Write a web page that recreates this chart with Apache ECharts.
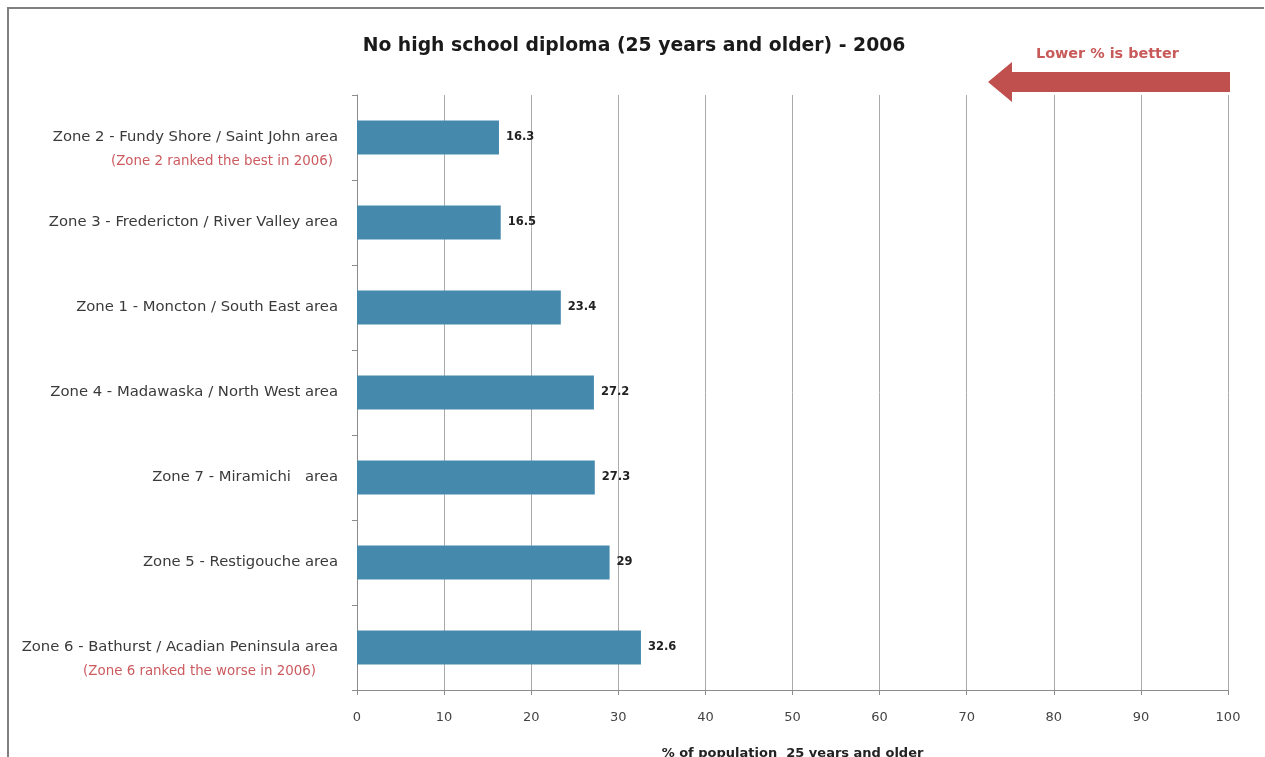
<!DOCTYPE html>
<html>
<head>
<meta charset="utf-8">
<script src="https://cdn.jsdelivr.net/npm/echarts@6/dist/echarts.min.js"></script>
<style>
  html, body { margin: 0; padding: 0; background: #ffffff; }
  #chart { width: 1265px; height: 757px; }
</style>
</head>
<body>
<div id="chart"></div>
<script>
// Health zones, listed from best (lowest %) to worst
const zones = [
  'Zone 2 - Fundy Shore / Saint John area',
  'Zone 3 - Fredericton / River Valley area',
  'Zone 1 - Moncton / South East area',
  'Zone 4 - Madawaska / North West area',
  'Zone 7 - Miramichi   area',
  'Zone 5 - Restigouche area',
  'Zone 6 - Bathurst / Acadian Peninsula area'
];
// Short remarks printed under some zone names
const notes = [
  '(Zone 2 ranked the best in 2006)',
  '', '', '', '', '',
  '(Zone 6 ranked the worse in 2006)'
];
// % of population 25 and older without a high school diploma
const noDiploma = [16.3, 16.5, 23.4, 27.2, 27.3, 29, 32.6];
const xTicks = [0, 10, 20, 30, 40, 50, 60, 70, 80, 90, 100];

const chart = echarts.init(document.getElementById('chart'));
const FONT = '"DejaVu Sans", "Open Sans", sans-serif';

chart.setOption({
  animation: false,
  backgroundColor: '#ffffff',
  textStyle: { fontFamily: FONT },
  title: {
    text: 'No high school diploma (25 years and older) - 2006',
    left: 629,
    top: 32,
    textAlign: 'center',
    textStyle: { fontSize: 18.8, fontWeight: 'bold', color: '#1a1a1a', fontFamily: FONT }
  },
  grid: { left: 357, right: 37, top: 95, bottom: 67, containLabel: false, outerBoundsMode: 'none' },
  xAxis: {
    type: 'value',
    min: xTicks[0],
    max: xTicks[xTicks.length - 1],
    interval: xTicks[1] - xTicks[0],
    name: '% of population  25 years and older',
    nameLocation: 'middle',
    nameGap: 57,
    nameTextStyle: { fontSize: 13, fontWeight: 'bold', color: '#222', fontFamily: FONT },
    axisLine: { show: true, lineStyle: { color: '#8c8c8c', width: 1 } },
    axisTick: { show: true, length: 5, lineStyle: { color: '#8c8c8c' } },
    axisLabel: { margin: 21, fontSize: 13, color: '#444', fontFamily: FONT },
    splitLine: { show: true, lineStyle: { color: '#ababab', width: 1 } }
  },
  yAxis: {
    type: 'category',
    inverse: true,
    data: zones,
    axisLine: { show: true, lineStyle: { color: '#8c8c8c', width: 1 } },
    axisTick: { show: true, length: 5, alignWithLabel: false, lineStyle: { color: '#8c8c8c' } },
    axisLabel: {
      margin: 19,
      align: 'right',
      color: '#3a3a3a',
      fontSize: 14.8,
      fontFamily: FONT,
      formatter: function (value, idx) {
        const note = notes[idx];
        if (!note) return '{main|' + value + '}';
        const subStyle = idx === 0 ? 'subA' : 'subB';
        return '{sp| }\n{main|' + value + '}\n{' + subStyle + '|' + note + '}';
      },
      rich: {
        main: { fontSize: 14.8, color: '#3a3a3a', lineHeight: 24, fontFamily: FONT },
        sp: { fontSize: 10, lineHeight: 24 },
        subA: { fontSize: 13.4, color: '#cc5a5f', lineHeight: 24, padding: [0, 5, 0, 0], fontFamily: FONT },
        subB: { fontSize: 13.4, color: '#cc5a5f', lineHeight: 24, padding: [0, 22, 0, 0], fontFamily: FONT }
      }
    },
    splitLine: { show: false }
  },
  series: [{
    type: 'bar',
    data: noDiploma,
    barWidth: 34,
    itemStyle: { color: '#4589ad' },
    label: {
      show: true,
      position: 'right',
      distance: 7,
      fontSize: 11.5,
      fontWeight: 'bold',
      color: '#222',
      fontFamily: FONT
    }
  }],
  graphic: [
    // frame (top and left edges)
    {
      type: 'polyline',
      shape: { points: [[8, 757], [8, 8], [1264, 8]] },
      style: { stroke: '#7f7f7f', lineWidth: 2, fill: null }
    },
    // "lower is better" arrow pointing left
    {
      type: 'polygon',
      shape: {
        points: [[988, 82], [1012, 62], [1012, 72], [1230, 72], [1230, 92], [1012, 92], [1012, 102]]
      },
      style: { fill: '#c0504d' }
    },
    {
      type: 'text',
      left: 1036,
      top: 47,
      style: {
        text: 'Lower % is better',
        font: 'bold 14.4px ' + FONT,
        fill: '#c85a5a'
      }
    }
  ]
});
</script>
</body>
</html>
